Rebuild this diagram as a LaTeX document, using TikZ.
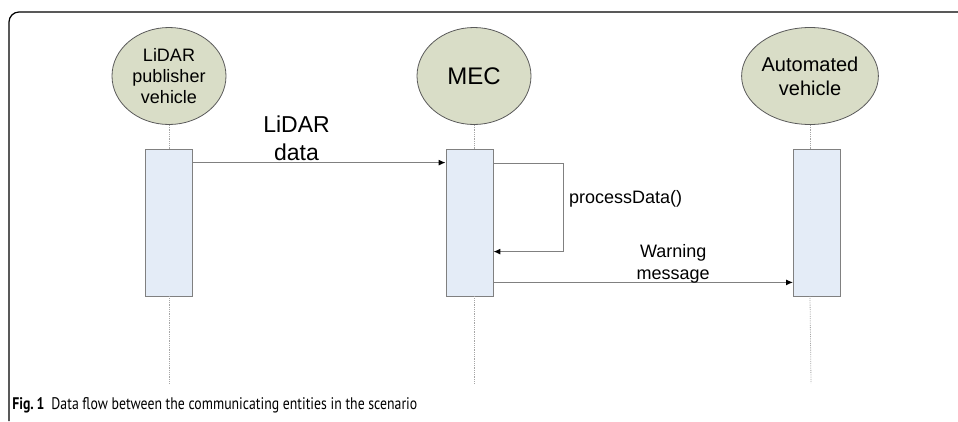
\documentclass[tikz,border=0pt]{standalone}
\usepackage{fontspec}
\setmainfont{Liberation Sans}
\newfontfamily\capfont[FakeStretch=0.82]{PT Sans}
\usetikzlibrary{shapes.geometric,arrows.meta}

\definecolor{lifefill}{HTML}{D9DDC7}
\definecolor{actfill}{HTML}{E4ECF7}
\definecolor{edgegray}{HTML}{808080}

\begin{document}
\begin{tikzpicture}[x=1pt, y=-1pt, node distance={305pt}, thick,
    main/.style = {draw=edgegray!70!black, ellipse, fill=lifefill, minimum width=114pt, minimum height=97pt, inner sep=0pt, align=center, font=\fontsize{18}{21}\selectfont},
    act/.style = {draw=edgegray, fill=actfill, rectangle, minimum width=47pt, minimum height=147pt, inner sep=0pt},
    msg/.style = {draw=edgegray, line width=1.2pt, -{Latex[length=7pt,width=6pt,color=black]}},
    life/.style = {draw=gray!70, densely dotted, line width=0.8pt},
    lbl/.style = {align=center, inner sep=0pt, font=\fontsize{18}{22}\selectfont}]
    \useasboundingbox (0,0) rectangle (958,421);
    \draw[line width=1.2pt, rounded corners=10pt] (958,12) -- (9,12) -- (9,421);

    \node[main] (1) at (169,76) {LiDAR\\publisher\\vehicle};
    \node[main] (2) [right of=1] {\fontsize{24}{28}\selectfont MEC};
    \node[main] (3) [right of=2, node distance={336pt}, font=\fontsize{20}{24}\selectfont] {Automated\\vehicle};
    \node[act] (4) [below of=1, node distance={146.5pt}] {};
    \node[act] (5) [below of=2, node distance={146.5pt}, xshift=-4.5pt] {};
    \node[act] (6) [below of=3, node distance={146.5pt}, xshift=7pt] {};

    % lifelines
    \coordinate (e1) at (169,383);
    \coordinate (e2) at (474,383);
    \coordinate (e3) at (811,383);
    \draw[life] (1.south) -- (1.south |- 4.north);
    \draw[life] (1.south |- 4.south) -- (e1);
    \draw[life] (2.south) -- (2.south |- 5.north);
    \draw[life] (2.south |- 5.south) -- (e2);
    \draw[life] (3.south) -- (3.south |- 6.north);
    \draw[life] (3.south |- 6.south) -- (e3);

    % messages
    \draw[msg] ([yshift=-14pt]4.north east) -- ([yshift=-14pt]5.north west)
        node[pos=0.41, above=1pt, lbl, font=\fontsize{23}{28}\selectfont] {LiDAR\\data};
    \draw[msg] ([yshift=-15pt]5.north east) -- ++(70,0) -- ++(0,88)
        node[pos=0.4, right=5pt, lbl] {processData()} -- ++(-70,0);
    \draw[msg] ([yshift=14pt]5.south east) -- ([yshift=14pt]6.south west)
        node[pos=0.6, above=-1pt, lbl] {Warning\\message};

    \node[anchor=base west, inner sep=0pt, font=\capfont\fontsize{16.8}{20}\selectfont] (7) at (12,409)
        {\textbf{Fig.\,1}\hspace{7pt}Data flow between the communicating entities in the scenario};
\end{tikzpicture}
\end{document}
